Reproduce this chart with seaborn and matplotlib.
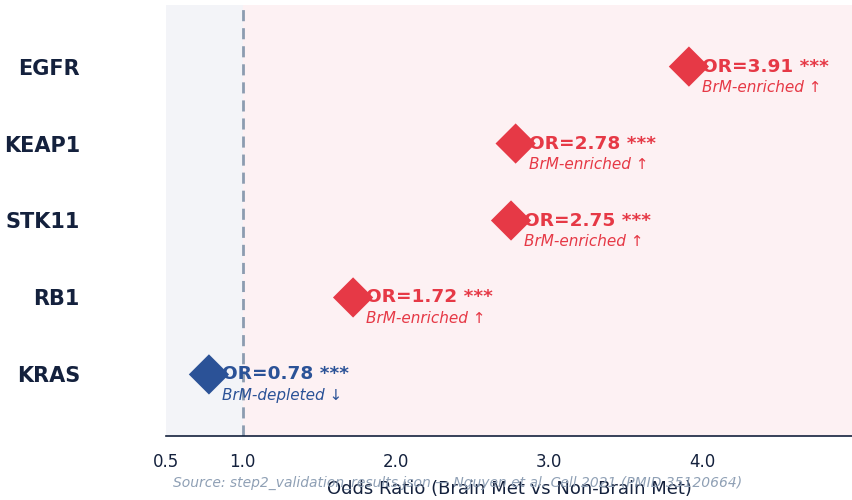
import matplotlib
matplotlib.use("Agg")
import matplotlib.pyplot as plt
import seaborn as sns
import pandas as pd

genes = ["EGFR", "KEAP1", "STK11", "RB1", "KRAS"]
odds_ratios = [3.91, 2.78, 2.75, 1.72, 0.78]
significance = ["***", "***", "***", "***", "***"]
x_ticks = [0.5, 1.0, 2.0, 3.0, 4.0]
x_tick_labels = ["0.5", "1.0", "2.0", "3.0", "4.0"]

RED = "#e63946"
BLUE = "#2b5297"
NAVY = "#14213d"

df = pd.DataFrame({"gene": genes, "OR": odds_ratios, "sig": significance})
df["ypos"] = list(range(len(genes) - 1, -1, -1))
df["direction"] = ["enriched" if v > 1 else "depleted" for v in df["OR"]]

sns.set_theme(style="white")
plt.rcParams["font.family"] = ["DejaVu Sans"]

fig = plt.figure(figsize=(8.53, 5.0), dpi=100)
ax = fig.add_axes([166 / 853, 64 / 500, (853 - 166) / 853, (436 - 5) / 500])

xmin, xmax = 0.5, 4.98
ax.axvspan(xmin, 1.0, color="#f3f4f8", zorder=0)
ax.axvspan(1.0, xmax, color="#fdf1f3", zorder=0)
ax.axvline(1.0, color="#8c9cb0", linestyle=(0, (4, 2.5)), linewidth=2, zorder=1)

sns.scatterplot(data=df, x="OR", y="ypos", hue="direction",
                palette={"enriched": RED, "depleted": BLUE},
                marker="D", s=420, edgecolor="none", legend=False, ax=ax, zorder=3)

for _, r in df.iterrows():
    c = RED if r["direction"] == "enriched" else BLUE
    arrow = "BrM-enriched \u2191" if r["direction"] == "enriched" else "BrM-depleted \u2193"
    ax.text(r["OR"] + 0.085, r["ypos"], f"OR={r['OR']:.2f} {r['sig']}",
            color=c, fontsize=13.3, fontweight="bold", va="center", ha="left", zorder=4)
    ax.text(r["OR"] + 0.085, r["ypos"] - 0.27, arrow,
            color=c, fontsize=11, fontstyle="italic", va="center", ha="left", zorder=4)

ax.set_xlim(xmin, xmax)
ax.set_ylim(-0.8, 4.8)
ax.set_yticks(df["ypos"])
ax.set_yticklabels(df["gene"], fontsize=15, fontweight="bold", color=NAVY)
ax.set_xticks(x_ticks)
ax.set_xticklabels(x_tick_labels, fontsize=12, color=NAVY)
ax.tick_params(axis="x", length=6, width=1.2, color=NAVY, pad=6)
ax.tick_params(axis="y", length=0, pad=62)
ax.set_xlabel("Odds Ratio (Brain Met vs Non-Brain Met)", fontsize=13, color=NAVY, labelpad=7)
ax.set_ylabel("")
for side in ["top", "right", "left"]:
    ax.spines[side].set_visible(False)
ax.spines["bottom"].set_color(NAVY)
ax.spines["bottom"].set_linewidth(1.2)

fig.text(173 / 853, 1 - 483 / 500, "Source: step2_validation_results.json \u2014 Nguyen et al. Cell 2021 (PMID 35120664)",
         fontsize=10, fontstyle="italic", color="#8fa0b5", va="center", ha="left")

fig.savefig("out.png", dpi=100)
